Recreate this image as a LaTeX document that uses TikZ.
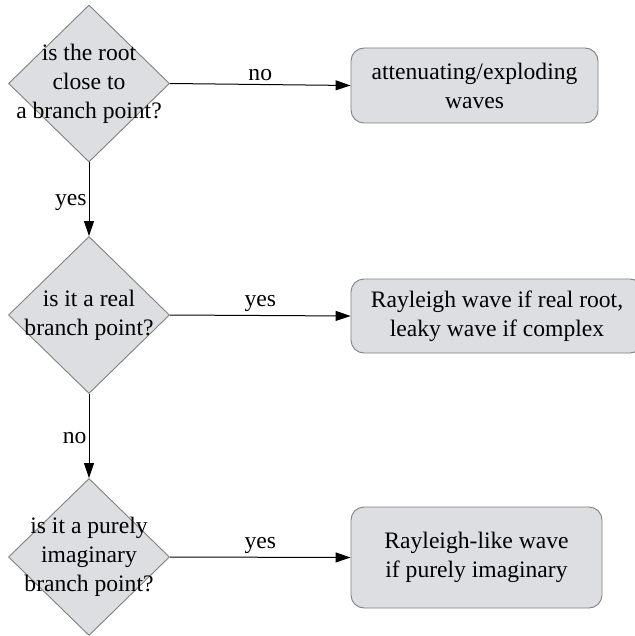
\documentclass[tikz,border=0pt]{standalone}
\usepackage{fontspec}
\setmainfont{Liberation Serif}
\usetikzlibrary{shapes.geometric,arrows.meta}
\definecolor{boxfill}{RGB}{221,222,225}
\definecolor{boxline}{RGB}{128,128,128}
\begin{document}
\begin{tikzpicture}[x=1pt,y=-1pt,
  every node/.style={font=\fontsize{23.6}{29}\selectfont},
  dia/.style={diamond,draw=boxline,fill=boxfill,line width=0.9pt,inner sep=0pt,minimum width=161pt,minimum height=157pt},
  qtext/.style={align=center,inner sep=0pt},
  res/.style={rounded corners=13pt,draw=boxline,fill=boxfill,line width=0.9pt,align=center,inner sep=0pt},
  arr/.style={line width=1pt,-{Triangle[length=15pt,width=10pt]}},
  lab/.style={inner sep=2pt}]
\useasboundingbox (0,0) rectangle (634,636);
% diamonds
\node[dia] (d1) at (89,83.5) {};
\node[qtext] (t1) at (d1.center) {is the root\\close to\\a branch point?};
\node[dia] (d2) at (89,315) {};
\node[qtext] (t2) at (d2.center) {is it a real\\branch point?};
\node[dia] (d3) at (89,557) {};
\node[qtext] (t3) at (d3.center) {is it a purely\\imaginary\\branch point?};
% result boxes
\node[res,minimum width=247pt,minimum height=75pt] (b1) at (474.5,85.5) {attenuating/exploding\\waves};
\node[res,minimum width=292pt,minimum height=74pt] (b2) at (497,316) {Rayleigh wave if real root,\\leaky wave if complex};
\node[res,minimum width=251pt,minimum height=101pt] (b3) at (476.5,557.5) {Rayleigh-like wave\\if purely imaginary};
% connectors
\draw[arr] (d1.east) -- (b1.west) node[lab,midway,above=1pt] {no};
\draw[arr] (d2.east) -- (b2.west) node[lab,midway,above=1pt] {yes};
\draw[arr] (d3.east) -- (b3.west) node[lab,midway,above=1pt] {yes};
\draw[arr] (d1.south) -- (d2.north) node[lab,pos=0.55,left=0pt] {yes};
\draw[arr] (d2.south) -- (d3.north) node[lab,pos=0.52,left=0pt] {no};
\end{tikzpicture}
\end{document}
